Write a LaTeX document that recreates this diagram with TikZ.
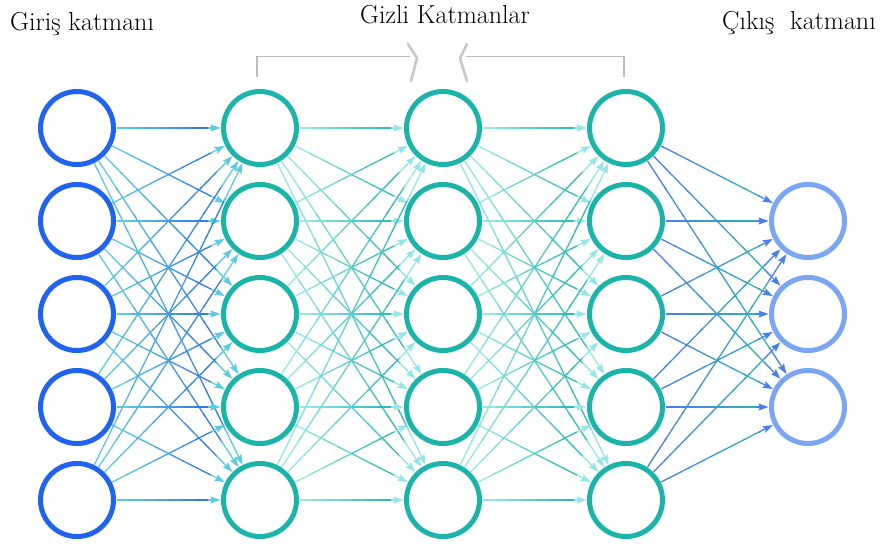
\documentclass[tikz,border=0pt]{standalone}
\usetikzlibrary{calc,arrows.meta}
\definecolor{incol}{HTML}{1F63F0}
\definecolor{hidcol}{HTML}{1AB5A8}
\definecolor{outcol}{HTML}{7AA6F3}
\definecolor{eInA}{HTML}{2F6FE2}
\definecolor{eInB}{HTML}{5CCBE2}
\definecolor{eHidA}{HTML}{22B5AC}
\definecolor{eHidB}{HTML}{95E6E6}
\definecolor{eOutA}{HTML}{2DB6AE}
\definecolor{eOutB}{HTML}{4A80EE}
\definecolor{brk}{HTML}{BDBDBD}
\definecolor{brkz}{HTML}{C8C8C8}
\newcommand{\gradedge}[4]{%
  \coordinate (gs) at ($(#1)!39.5pt!(#2)$);
  \coordinate (ge) at ($(#2)!39.5pt!(#1)$);
  \foreach \k in {0,...,6}{%
    \pgfmathsetmacro{\ta}{\k/8}%
    \pgfmathsetmacro{\tb}{(\k+1)/8+0.01}%
    \pgfmathtruncatemacro{\pc}{100-\k*100/7}%
    \draw[edgeline, color=#4!\pc!#3] ($(gs)!\ta!(ge)$) -- ($(gs)!\tb!(ge)$);
  }
  \draw[edgeline, color=#4, -{Stealth[length=10pt,width=7pt,inset=1.5pt]}] ($(gs)!0.875!(ge)$) -- (ge);
}
\begin{document}
\begin{tikzpicture}[x=1pt,y=-1pt,
  neuron/.style={circle, minimum size=73pt, inner sep=0pt, line width=5pt, fill=white},
  innode/.style={neuron, draw=incol},
  hidnode/.style={neuron, draw=hidcol},
  outnode/.style={neuron, draw=outcol},
  edgeline/.style={line width=1.3pt},
  title/.style={font=\fontsize{26}{30}\selectfont, anchor=base west, inner sep=0pt}
]
\useasboundingbox (0,0) rectangle (884,547);
\fill[white] (0,0) rectangle (884,547);
% titles
\node[title] (tin) at (10,30) {Giriş katmanı};
\node[title] (thid) at (360,23) {Gizli Katmanlar};
\node[title] (tout) at (722,29) {Çıkış\ \ katmanı};
% bracket
\draw[brk, line width=1.3pt] (257,77) -- (257,56.5) -- (410,56.5);
\draw[brk, line width=1.3pt] (466,56.5) -- (624,56.5) -- (624,77);
\draw[brkz, line width=2.6pt, line cap=round, line join=round] (408,44) -- (417,58) -- (411,81);
\draw[brkz, line width=2.6pt, line cap=round, line join=round] (467,44) -- (460,58) -- (467,81);
% nodes
\foreach \i/\y in {1/128,2/221,3/314,4/407,5/500}{
  \node[innode] (i\i) at (77,\y) {};
  \node[hidnode] (a\i) at (260,\y) {};
  \node[hidnode] (b\i) at (443,\y) {};
  \node[hidnode] (c\i) at (626,\y) {};
}
\foreach \j/\y in {1/221,2/314,3/407}{
  \node[outnode] (o\j) at (808,\y) {};
}
% edges
\foreach \p in {1,...,5}{
  \foreach \q in {1,...,5}{
    \gradedge{i\p}{a\q}{eInA}{eInB}
    \gradedge{a\p}{b\q}{eHidA}{eHidB}
    \gradedge{b\p}{c\q}{eHidA}{eHidB}
  }
  \foreach \q in {1,2,3}{
    \gradedge{c\p}{o\q}{eOutA}{eOutB}
  }
}
\end{tikzpicture}
\end{document}
